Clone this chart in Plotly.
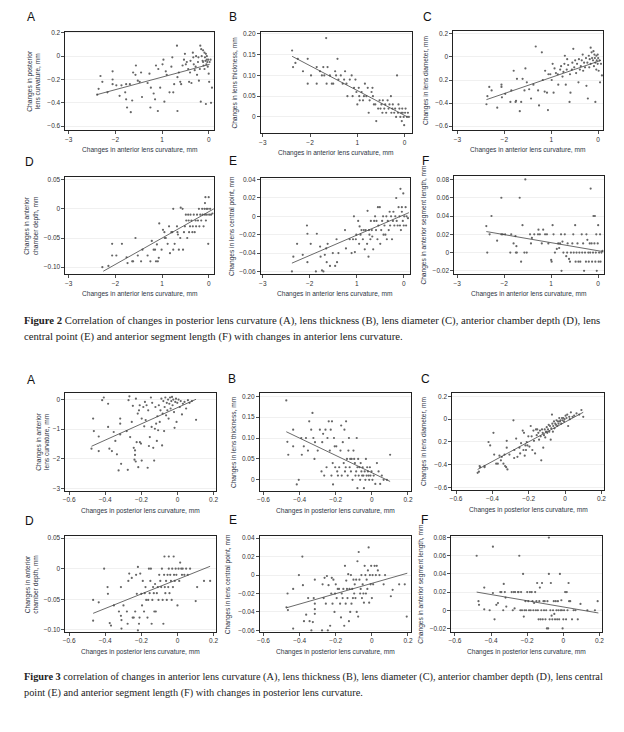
import plotly.graph_objects as go

W, H = 624, 732

# ---------------- DATA ----------------
# Figure 2: x = changes in anterior lens curvature (mm)
f2a_pts = [(-2.39,-0.33),(-2.36,-0.28),(-2.32,-0.17),(-2.28,-0.22),(-2.17,-0.31),(-2.06,-0.13),(-2.06,-0.20),(-2.06,-0.24),
    (-1.98,-0.25),(-1.91,-0.34),(-1.87,-0.25),(-1.79,-0.31),(-1.77,-0.24),(-1.77,-0.37),(-1.75,-0.44),(-1.69,-0.24),
    (-1.67,-0.48),(-1.64,-0.38),(-1.62,-0.14),(-1.57,-0.16),(-1.56,-0.08),(-1.52,-0.21),(-1.48,-0.22),(-1.45,-0.14),
    (-1.43,-0.35),(-1.31,-0.23),(-1.27,-0.15),(-1.25,-0.44),(-1.24,-0.27),(-1.18,-0.32),(-1.15,-0.37),(-1.13,-0.08),
    (-1.09,-0.47),(-1.08,-0.11),(-1.04,-0.27),(-0.99,-0.07),(-0.97,-0.03),(-0.95,-0.39),(-0.92,-0.13),(-0.90,-0.16),
    (-0.84,-0.31),(-0.80,-0.09),(-0.78,-0.01),(-0.76,-0.31),(-0.74,-0.24),(-0.68,0.09),(-0.67,-0.47),(-0.67,-0.18),
    (-0.64,-0.14),(-0.61,-0.22),(-0.59,-0.24),(-0.56,-0.08),(-0.53,-0.03),(-0.51,0.02),(-0.49,-0.07),(-0.47,-0.05),
    (-0.44,-0.11),(-0.42,-0.22),(-0.40,-0.14),(-0.39,-0.04),(-0.37,-0.23),(-0.34,0.03),(-0.33,-0.01),(-0.32,-0.07),
    (-0.30,-0.12),(-0.28,-0.09),(-0.27,0.00),(-0.25,-0.16),(-0.23,-0.05),(-0.22,-0.01),(-0.21,-0.21),(-0.19,-0.11),
    (-0.18,0.09),(-0.17,-0.39),(-0.16,0.06),(-0.15,0.00),(-0.13,-0.04),(-0.12,0.05),(-0.12,-0.05),(-0.11,-0.08),
    (-0.09,0.03),(-0.09,-0.11),(-0.08,-0.01),(-0.07,-0.04),(-0.06,0.02),(-0.06,-0.41),(-0.05,-0.07),(-0.04,-0.03),
    (-0.04,0.00),(-0.03,-0.05),(-0.02,-0.09),(-0.01,-0.03),(0.00,-0.15),(0.01,-0.22),(0.02,-0.05),(0.04,-0.03),
    (0.05,-0.40),(0.07,-0.27)]
f2a_fit = [(-2.40,-0.33),(0.02,-0.07)]

f2b_pts = [(-2.38,0.16),(-2.36,0.12),(-2.31,0.13),(-2.26,0.14),(-2.15,0.11),(-2.05,0.14),(-2.05,0.08),(-1.98,0.10),
    (-1.86,0.12),(-1.86,0.08),(-1.79,0.11),(-1.75,0.10),(-1.72,0.12),(-1.70,0.10),(-1.66,0.19),(-1.65,0.08),
    (-1.63,0.12),(-1.58,0.10),(-1.54,0.08),(-1.51,0.08),(-1.47,0.11),(-1.45,0.10),(-1.42,0.14),(-1.40,0.09),
    (-1.35,0.10),(-1.31,0.08),(-1.28,0.09),(-1.26,0.11),(-1.23,0.08),(-1.21,0.05),(-1.16,0.09),(-1.12,0.10),
    (-1.10,0.05),(-1.07,0.07),(-1.04,0.09),(-1.02,0.06),(-1.00,0.03),(-0.97,0.07),(-0.96,0.05),(-0.95,0.04),
    (-0.91,0.06),(-0.88,0.04),(-0.86,0.05),(-0.84,0.08),(-0.81,0.05),(-0.78,0.07),(-0.76,0.01),(-0.74,0.04),
    (-0.70,0.06),(-0.68,0.07),(-0.67,0.05),(-0.65,0.03),(-0.62,0.03),(-0.60,-0.01),(-0.56,0.02),(-0.53,0.04),
    (-0.51,0.02),(-0.49,0.03),(-0.47,0.01),(-0.46,0.04),(-0.43,0.02),(-0.41,0.03),(-0.39,0.01),(-0.36,0.04),
    (-0.34,0.02),(-0.32,0.03),(-0.29,0.05),(-0.28,0.01),(-0.26,0.02),(-0.25,0.03),(-0.22,0.01),(-0.20,0.02),
    (-0.18,0.00),(-0.16,0.10),(-0.14,0.01),(-0.13,0.03),(-0.11,0.02),(-0.09,0.00),(-0.07,0.01),(-0.06,-0.01),
    (-0.05,0.02),(-0.04,0.01),(-0.02,0.00),(-0.01,-0.02),(0.01,0.01),(0.02,0.02),(0.05,0.00),(0.07,0.01),(0.09,0.00)]
f2b_fit = [(-2.38,0.146),(0.06,0.0)]

f2c_pts = [(-2.38,-0.41),(-2.36,-0.34),(-2.32,-0.26),(-2.27,-0.29),(-2.15,-0.44),(-2.06,-0.26),(-2.06,-0.24),(-2.05,-0.35),
    (-1.98,-0.32),(-1.87,-0.39),(-1.85,-0.29),(-1.80,-0.12),(-1.76,-0.39),(-1.75,-0.38),(-1.73,-0.19),(-1.67,-0.47),
    (-1.64,-0.39),(-1.61,-0.19),(-1.57,-0.29),(-1.55,-0.10),(-1.52,-0.22),(-1.47,-0.28),(-1.43,-0.36),(-1.38,-0.24),
    (-1.33,0.09),(-1.28,-0.29),(-1.26,-0.42),(-1.20,0.04),(-1.18,-0.20),(-1.14,-0.30),(-1.13,-0.12),(-1.09,-0.31),
    (-1.07,-0.46),(-1.06,-0.15),(-1.02,-0.15),(-0.99,-0.20),(-0.97,-0.06),(-0.95,-0.31),(-0.93,-0.10),(-0.90,-0.14),
    (-0.86,-0.15),(-0.85,-0.24),(-0.81,-0.11),(-0.79,-0.08),(-0.76,-0.17),(-0.74,-0.13),(-0.72,-0.06),(-0.71,0.01),
    (-0.69,-0.24),(-0.67,-0.11),(-0.66,-0.02),(-0.64,-0.07),(-0.61,-0.39),(-0.60,-0.15),(-0.59,-0.31),(-0.56,-0.11),
    (-0.55,-0.05),(-0.53,0.07),(-0.51,-0.09),(-0.49,-0.03),(-0.47,-0.14),(-0.45,-0.06),(-0.42,-0.22),(-0.41,-0.02),
    (-0.39,-0.11),(-0.37,-0.08),(-0.35,-0.03),(-0.33,0.02),(-0.32,-0.12),(-0.30,-0.05),(-0.28,-0.09),(-0.26,-0.01),
    (-0.25,-0.25),(-0.23,-0.05),(-0.22,-0.36),(-0.20,0.01),(-0.19,-0.09),(-0.18,-0.02),(-0.16,0.08),(-0.16,-0.06),
    (-0.14,0.04),(-0.13,-0.01),(-0.11,-0.03),(-0.10,0.05),(-0.09,-0.08),(-0.08,0.02),(-0.07,-0.01),(-0.06,-0.39),
    (-0.06,-0.05),(-0.04,0.01),(-0.04,-0.11),(-0.03,-0.03),(-0.01,0.02),(-0.01,-0.06),(0.00,-0.01),(0.01,-0.12),
    (0.03,-0.03),(0.04,-0.22),(0.06,-0.06),(0.08,-0.16)]
f2c_fit = [(-2.38,-0.37),(0.06,-0.03)]

f2d_pts = [(-2.28,-0.10),(-2.15,-0.098),(-2.07,-0.06),(-2.07,-0.08),(-1.98,-0.08),(-1.86,-0.06),(-1.76,-0.083),(-1.74,-0.093),
    (-1.64,-0.09),(-1.62,-0.09),(-1.57,-0.05),(-1.52,-0.08),(-1.45,-0.09),(-1.42,-0.07),(-1.31,-0.08),(-1.25,-0.09),
    (-1.22,-0.055),(-1.18,-0.07),(-1.13,-0.09),(-1.15,-0.07),(-1.11,-0.061),(-1.09,-0.09),(-1.07,-0.084),(-1.06,-0.025),
    (-1.01,-0.07),(-0.98,-0.036),(-0.95,-0.04),(-0.94,-0.05),(-0.92,-0.05),(-0.88,-0.06),(-0.85,-0.03),(-0.83,-0.076),
    (-0.80,-0.04),(-0.78,-0.04),(-0.76,0.0),(-0.76,-0.07),(-0.73,-0.06),(-0.68,-0.03),(-0.67,-0.04),(-0.66,-0.044),
    (-0.64,-0.07),(-0.61,-0.05),(-0.60,0.002),(-0.56,0.0),(-0.55,-0.07),(-0.53,-0.04),(-0.51,-0.03),(-0.49,-0.01),
    (-0.48,-0.02),(-0.46,-0.05),(-0.44,-0.01),(-0.43,-0.02),(-0.42,-0.04),(-0.40,-0.03),(-0.39,-0.01),(-0.37,-0.02),
    (-0.35,-0.04),(-0.34,-0.03),(-0.32,-0.01),(-0.30,-0.04),(-0.28,-0.02),(-0.27,-0.03),(-0.25,-0.01),(-0.23,-0.02),
    (-0.21,0.0),(-0.20,-0.03),(-0.18,-0.01),(-0.16,-0.02),(-0.14,0.0),(-0.13,-0.01),(-0.11,-0.03),(-0.09,0.0),
    (-0.08,0.01),(-0.08,-0.01),(-0.07,0.02),(-0.06,-0.02),(-0.05,0.0),(-0.04,-0.01),(-0.02,0.0),(-0.01,-0.06),
    (0.0,0.02),(0.01,-0.01),(0.03,0.0),(0.05,-0.01),(0.08,-0.008)]
f2d_fit = [(-2.26,-0.107),(0.11,0.0)]

f2e_pts = [(-2.38,-0.06),(-2.35,-0.044),(-2.27,-0.03),(-2.15,-0.042),(-2.06,-0.01),(-2.05,-0.019),(-2.05,-0.05),(-1.98,-0.03),
    (-1.87,-0.06),(-1.85,-0.019),(-1.78,-0.033),(-1.77,-0.044),(-1.74,-0.059),(-1.71,-0.06),(-1.68,-0.042),(-1.65,-0.035),
    (-1.64,-0.05),(-1.62,-0.03),(-1.57,-0.054),(-1.51,-0.04),(-1.46,-0.054),(-1.43,-0.025),(-1.42,-0.05),(-1.39,-0.04),
    (-1.25,-0.015),(-1.23,-0.035),(-1.15,-0.025),(-1.11,-0.04),(-1.08,-0.025),(-1.06,0.0),(-1.04,-0.039),(-1.02,-0.025),
    (-1.01,-0.02),(-0.97,-0.005),(-0.95,-0.03),(-0.94,-0.011),(-0.92,-0.02),(-0.90,-0.015),(-0.87,-0.025),(-0.85,-0.015),
    (-0.83,-0.036),(-0.81,-0.015),(-0.78,-0.03),(-0.77,0.006),(-0.75,-0.044),(-0.74,-0.015),(-0.73,-0.02),(-0.71,-0.025),
    (-0.70,-0.005),(-0.68,-0.015),(-0.67,-0.022),(-0.65,-0.036),(-0.63,-0.005),(-0.61,0.0),(-0.59,-0.015),(-0.58,-0.005),
    (-0.56,-0.025),(-0.55,0.01),(-0.54,-0.01),(-0.51,0.01),(-0.50,-0.03),(-0.48,-0.015),(-0.46,-0.005),(-0.44,0.0),
    (-0.43,-0.02),(-0.41,-0.01),(-0.39,-0.02),(-0.37,0.0),(-0.36,-0.025),(-0.34,-0.005),(-0.32,-0.015),(-0.30,0.005),
    (-0.29,-0.01),(-0.27,0.0),(-0.25,-0.025),(-0.23,-0.005),(-0.22,0.005),(-0.20,-0.01),(-0.18,0.0),(-0.16,0.02),
    (-0.15,-0.005),(-0.13,-0.01),(-0.11,0.01),(-0.09,0.0),(-0.08,-0.01),(-0.07,0.03),(-0.06,-0.015),(-0.04,0.005),
    (-0.04,0.01),(-0.02,-0.005),(-0.01,0.025),(0.0,-0.01),(0.01,0.0),(0.04,0.01),(0.05,-0.01),(0.06,0.0),(0.09,-0.002)]
f2e_fit = [(-2.38,-0.051),(0.11,0.004)]

f2f_pts = [(-2.38,0.029),(-2.36,0.0),(-2.31,0.02),(-2.27,0.04),(-2.15,0.013),(-2.06,0.06),(-2.06,0.02),(-2.03,0.02),
    (-1.98,0.02),(-1.87,0.0),(-1.85,0.02),(-1.80,0.01),(-1.76,0.018),(-1.75,0.0),(-1.74,0.007),(-1.73,0.0),
    (-1.67,0.06),(-1.64,-0.01),(-1.61,0.03),(-1.57,0.0),(-1.55,0.08),(-1.52,0.0),(-1.45,0.02),(-1.43,0.01),
    (-1.41,0.016),(-1.36,0.02),(-1.28,0.02),(-1.27,0.025),(-1.24,0.02),(-1.20,0.01),(-1.17,0.025),(-1.13,0.02),
    (-1.09,0.02),(-1.06,0.01),(-1.00,-0.008),(-0.99,-0.01),(-0.97,0.03),(-0.95,0.02),(-0.92,0.0),(-0.88,0.004),
    (-0.85,0.01),(-0.83,0.005),(-0.81,0.01),(-0.79,0.02),(-0.78,-0.02),(-0.76,0.012),(-0.74,0.0),(-0.71,0.02),
    (-0.68,-0.004),(-0.66,0.0),(-0.65,0.01),(-0.62,-0.007),(-0.60,-0.01),(-0.58,0.0),(-0.55,0.01),(-0.53,0.02),
    (-0.52,0.0),(-0.49,0.03),(-0.48,-0.01),(-0.46,0.0),(-0.44,0.01),(-0.42,-0.01),(-0.40,0.0),(-0.38,-0.01),
    (-0.35,0.02),(-0.34,0.0),(-0.32,0.01),(-0.30,-0.02),(-0.28,0.0),(-0.26,-0.01),(-0.25,0.02),(-0.23,0.014),
    (-0.21,0.0),(-0.20,-0.01),(-0.18,0.01),(-0.17,0.0),(-0.16,0.07),(-0.14,0.01),(-0.13,-0.01),(-0.11,0.0),
    (-0.10,0.04),(-0.08,0.01),(-0.07,0.04),(-0.06,-0.01),(-0.05,0.0),(-0.04,0.02),(-0.03,-0.02),(-0.01,0.01),
    (0.0,0.03),(0.01,-0.01),(0.02,0.0),(0.04,0.02),(0.05,-0.01),(0.07,0.0),(0.09,0.002)]
f2f_fit = [(-2.38,0.023),(0.11,0.001)]

# Figure 3: x = changes in posterior lens curvature (mm)
f3a_pts = [(-0.476,-1.66),(-0.467,-0.65),(-0.463,-1.07),(-0.436,-1.25),(-0.436,-1.74),(-0.417,-0.03),(-0.408,0.06),(-0.384,-0.15),
    (-0.384,-0.93),(-0.377,-1.66),(-0.363,-1.74),(-0.353,-1.10),(-0.344,-1.40),(-0.335,-1.85),(-0.326,-2.39),(-0.317,-0.65),
    (-0.317,-0.82),(-0.317,-1.18),(-0.312,-2.17),(-0.281,-1.07),(-0.275,-2.37),(-0.271,-0.03),(-0.266,0.10),(-0.262,-1.27),
    (-0.253,-0.76),(-0.247,-0.22),(-0.242,-1.63),(-0.238,-2.03),(-0.235,-1.72),(-0.235,-1.87),(-0.231,-2.09),(-0.230,0.02),
    (-0.226,-1.44),(-0.220,-0.48),(-0.217,-2.28),(-0.213,-0.37),(-0.209,-0.20),(-0.208,-1.44),(-0.202,-1.49),(-0.198,-2.06),
    (-0.198,-0.65),(-0.189,-0.26),(-0.184,-0.91),(-0.180,-0.09),(-0.176,-0.70),(-0.171,-0.20),(-0.165,-2.30),(-0.162,-0.37),
    (-0.158,-1.57),(-0.153,-1.27),(-0.147,0.06),(-0.143,-0.93),(-0.140,-0.12),(-0.134,-1.63),(-0.129,-2.06),(-0.125,-0.99),
    (-0.122,-0.26),(-0.118,-0.82),(-0.114,-1.40),(-0.111,-0.57),(-0.107,-1.04),(-0.103,-0.20),(-0.098,-0.76),(-0.094,-0.37),
    (-0.089,0.02),(-0.085,-1.55),(-0.082,-0.48),(-0.078,-0.06),(-0.074,-1.07),(-0.071,-0.26),(-0.067,0.06),(-0.063,-0.54),
    (-0.059,-0.12),(-0.056,-0.37),(-0.052,-0.01),(-0.049,-0.65),(-0.045,-0.15),(-0.041,0.06),(-0.038,-0.31),(-0.034,-0.06),
    (-0.030,0.08),(-0.027,-0.20),(-0.023,-0.01),(-0.019,-0.43),(-0.016,-0.96),(-0.012,-0.09),(-0.008,0.02),(-0.005,-0.76),
    (-0.001,-0.12),(0.006,-0.01),(0.013,-0.26),(0.018,-0.06),(0.025,-0.51),(0.030,-0.15),(0.039,-0.09),(0.048,-0.31),
    (0.058,-0.03),(0.067,-0.12),(0.080,-0.06),(0.103,-0.69)]
f3a_fit = [(-0.476,-1.58),(0.103,0.0)]

f3b_pts = [(-0.474,0.19),(-0.468,0.091),(-0.463,0.06),(-0.436,0.12),(-0.436,0.08),(-0.416,-0.011),(-0.405,0.0),(-0.391,0.10),
    (-0.388,0.06),(-0.377,0.08),(-0.365,0.10),(-0.354,0.07),(-0.347,0.14),(-0.336,0.12),(-0.329,0.16),(-0.324,0.10),
    (-0.318,0.05),(-0.315,0.09),(-0.300,0.07),(-0.288,0.12),(-0.279,0.02),(-0.275,0.09),(-0.270,0.11),(-0.264,0.01),
    (-0.257,0.12),(-0.251,0.03),(-0.246,0.10),(-0.239,0.14),(-0.233,0.07),(-0.228,0.12),(-0.224,0.01),(-0.221,0.14),
    (-0.217,0.04),(-0.215,-0.011),(-0.210,0.10),(-0.206,0.08),(-0.203,0.03),(-0.197,0.08),(-0.192,0.02),(-0.188,0.01),
    (-0.181,0.03),(-0.174,0.07),(-0.170,0.13),(-0.167,0.01),(-0.161,0.09),(-0.156,0.04),(-0.152,0.12),(-0.149,0.02),
    (-0.145,0.03),(-0.143,0.14),(-0.138,0.05),(-0.134,0.01),(-0.130,0.07),(-0.127,0.10),(-0.123,0.03),(-0.120,0.05),
    (-0.116,0.02),(-0.112,0.05),(-0.107,0.0),(-0.102,0.07),(-0.098,0.05),(-0.094,0.04),(-0.091,0.01),(-0.087,0.02),
    (-0.084,0.10),(-0.080,-0.02),(-0.080,0.03),(-0.076,0.05),(-0.073,0.01),(-0.069,0.03),(-0.065,0.0),(-0.062,0.04),
    (-0.058,0.02),(-0.054,0.01),(-0.051,0.03),(-0.047,0.01),(-0.044,-0.02),(-0.040,0.02),(-0.036,0.0),(-0.033,0.05),
    (-0.029,0.01),(-0.026,0.03),(-0.022,0.02),(-0.018,0.01),(-0.015,0.0),(-0.011,0.03),(-0.008,0.01),(-0.002,0.02),
    (0.003,0.0),(0.010,0.01),(0.019,-0.01),(0.028,0.04),(0.037,0.02),(0.046,-0.01),(0.055,0.01),(0.065,0.0),
    (0.083,0.0),(0.101,0.06)]
f3b_fit = [(-0.474,0.115),(0.101,-0.004)]

f3c_pts = [(-0.481,-0.47),(-0.474,-0.46),(-0.470,-0.41),(-0.467,-0.42),(-0.443,-0.41),(-0.443,-0.42),(-0.421,-0.20),(-0.412,-0.23),
    (-0.394,-0.12),(-0.390,-0.31),(-0.379,-0.39),(-0.370,-0.39),(-0.361,-0.32),(-0.353,-0.36),(-0.348,-0.33),(-0.339,-0.39),
    (-0.333,-0.31),(-0.330,-0.41),(-0.324,-0.42),(-0.321,-0.19),(-0.321,-0.25),(-0.317,-0.44),(-0.306,-0.31),(-0.284,-0.01),
    (-0.280,-0.34),(-0.279,-0.27),(-0.269,-0.17),(-0.262,-0.33),(-0.251,-0.25),(-0.247,-0.30),(-0.242,-0.21),(-0.233,-0.10),
    (-0.229,-0.27),(-0.226,-0.12),(-0.222,-0.32),(-0.218,-0.23),(-0.215,-0.27),(-0.211,-0.20),(-0.207,-0.23),(-0.202,-0.15),
    (-0.196,-0.24),(-0.189,-0.06),(-0.184,-0.15),(-0.180,-0.27),(-0.174,-0.10),(-0.171,-0.19),(-0.165,-0.30),(-0.160,-0.09),
    (-0.156,-0.14),(-0.153,-0.09),(-0.147,-0.12),(-0.143,-0.18),(-0.138,-0.10),(-0.134,-0.15),(-0.131,-0.36),(-0.127,-0.09),
    (-0.123,-0.12),(-0.120,-0.25),(-0.116,-0.14),(-0.112,-0.09),(-0.109,-0.16),(-0.105,-0.11),(-0.101,-0.07),(-0.098,-0.12),
    (-0.094,-0.09),(-0.090,-0.05),(-0.087,-0.11),(-0.083,-0.06),(-0.079,-0.18),(-0.076,-0.08),(-0.072,0.04),(-0.070,-0.04),
    (-0.067,-0.11),(-0.065,-0.06),(-0.061,-0.02),(-0.058,-0.08),(-0.054,-0.04),(-0.050,-0.05),(-0.047,-0.01),(-0.043,-0.06),
    (-0.039,-0.02),(-0.036,-0.04),(-0.032,0.01),(-0.028,-0.02),(-0.025,-0.01),(-0.021,-0.04),(-0.017,0.01),(-0.014,-0.01),
    (-0.010,0.01),(-0.006,-0.02),(-0.003,0.0),(0.003,0.03),(0.008,0.01),(0.012,0.04),(0.017,-0.06),(0.023,0.02),
    (0.026,0.0),(0.032,0.06),(0.041,0.02),(0.050,0.03),(0.063,0.05),(0.078,0.04),(0.090,0.08),(0.100,0.02)]
f3c_fit = [(-0.481,-0.44),(0.100,0.06)]

f3d_pts = [(-0.467,-0.051),(-0.467,-0.085),(-0.436,-0.055),(-0.406,0.0),(-0.387,-0.03),(-0.385,-0.041),(-0.375,-0.089),(-0.368,-0.093),
    (-0.352,-0.06),(-0.324,-0.07),(-0.313,-0.03),(-0.313,-0.077),(-0.310,-0.084),(-0.310,-0.098),(-0.299,-0.06),(-0.280,-0.07),
    (-0.276,-0.09),(-0.272,-0.02),(-0.267,-0.008),(-0.253,-0.015),(-0.248,-0.08),(-0.242,-0.08),(-0.234,-0.07),(-0.229,-0.01),
    (-0.225,-0.041),(-0.219,0.003),(-0.219,-0.101),(-0.213,-0.09),(-0.210,-0.08),(-0.206,-0.008),(-0.200,-0.041),(-0.196,-0.06),
    (-0.192,-0.02),(-0.185,-0.07),(-0.181,-0.04),(-0.177,-0.03),(-0.173,-0.051),(-0.166,-0.08),(-0.162,-0.051),(-0.158,0.0),
    (-0.154,-0.04),(-0.150,-0.02),(-0.147,0.0),(-0.143,-0.09),(-0.139,-0.051),(-0.135,-0.03),(-0.131,-0.04),(-0.128,-0.07),
    (-0.124,-0.025),(-0.120,-0.07),(-0.114,-0.04),(-0.109,-0.03),(-0.105,-0.051),(-0.101,-0.01),(-0.095,-0.02),(-0.090,-0.03),
    (-0.086,0.0),(-0.082,-0.051),(-0.078,-0.09),(-0.074,-0.01),(-0.072,0.02),(-0.070,-0.03),(-0.067,-0.04),(-0.063,-0.02),
    (-0.059,-0.051),(-0.055,-0.01),(-0.051,-0.03),(-0.048,0.02),(-0.048,0.0),(-0.044,-0.04),(-0.040,-0.01),(-0.036,-0.02),
    (-0.032,-0.051),(-0.029,0.0),(-0.025,-0.03),(-0.021,0.02),(-0.019,-0.01),(-0.015,-0.02),(-0.010,0.0),(-0.006,-0.01),
    (0.0,-0.06),(0.006,0.0),(0.010,-0.02),(0.015,0.01),(0.021,0.0),(0.025,-0.01),(0.029,0.0),(0.038,-0.01),
    (0.048,0.0),(0.057,-0.01),(0.070,0.0),(0.101,-0.053),(0.109,-0.03),(0.147,-0.02),(0.181,-0.02)]
f3d_fit = [(-0.467,-0.073),(0.181,0.004)]

f3e_pts = [(-0.473,-0.035),(-0.467,-0.02),(-0.465,-0.038),(-0.436,-0.058),(-0.436,-0.015),(-0.404,0.0),(-0.385,0.02),(-0.382,-0.011),
    (-0.376,-0.05),(-0.364,-0.043),(-0.353,-0.025),(-0.345,-0.05),(-0.335,-0.06),(-0.327,-0.051),(-0.322,-0.025),(-0.316,-0.005),
    (-0.316,-0.031),(-0.316,-0.037),(-0.316,-0.042),(-0.276,-0.06),(-0.273,-0.01),(-0.267,-0.025),(-0.262,-0.003),(-0.255,-0.031),
    (-0.249,-0.001),(-0.244,-0.06),(-0.240,-0.011),(-0.231,-0.055),(-0.225,-0.02),(-0.222,-0.003),(-0.218,-0.031),(-0.213,-0.005),
    (-0.207,-0.04),(-0.204,-0.02),(-0.200,-0.01),(-0.195,-0.025),(-0.189,-0.015),(-0.182,-0.015),(-0.176,-0.031),(-0.171,-0.046),
    (-0.167,-0.02),(-0.162,-0.025),(-0.158,-0.015),(-0.153,-0.055),(-0.149,0.01),(-0.145,-0.031),(-0.142,-0.006),(-0.138,-0.015),
    (-0.135,-0.025),(-0.131,0.001),(-0.127,-0.05),(-0.124,-0.015),(-0.120,-0.04),(-0.116,0.0),(-0.113,-0.031),(-0.109,-0.015),
    (-0.105,-0.025),(-0.102,-0.005),(-0.098,-0.02),(-0.095,-0.01),(-0.091,-0.025),(-0.087,-0.005),(-0.084,-0.04),(-0.080,0.015),
    (-0.076,-0.045),(-0.073,0.025),(-0.069,-0.005),(-0.065,-0.02),(-0.062,-0.015),(-0.058,0.0),(-0.055,-0.025),(-0.051,-0.01),
    (-0.047,-0.02),(-0.044,-0.03),(-0.040,0.01),(-0.036,0.0),(-0.033,-0.02),(-0.029,-0.005),(-0.025,-0.015),(-0.022,0.005),
    (-0.018,0.03),(-0.015,-0.03),(-0.011,0.0),(-0.007,-0.01),(-0.004,0.01),(0.0,-0.025),(0.004,0.0),(0.007,-0.01),
    (0.015,0.01),(0.022,0.0),(0.027,0.01),(0.033,0.005),(0.042,0.0),(0.065,-0.01),(0.073,0.0),(0.105,-0.023),
    (0.115,-0.016),(0.151,-0.01),(0.182,-0.01),(0.193,-0.045)]
f3e_fit = [(-0.473,-0.0355),(0.196,0.002)]

f3f_pts = [(-0.480,0.06),(-0.470,0.01),(-0.467,0.006),(-0.438,0.025),(-0.438,0.001),(-0.408,0.0),(-0.390,0.07),(-0.390,0.019),
    (-0.381,-0.01),(-0.371,0.006),(-0.362,0.008),(-0.349,0.02),(-0.343,0.02),(-0.333,0.0),(-0.330,0.029),(-0.324,0.02),
    (-0.320,0.014),(-0.316,0.004),(-0.286,0.02),(-0.280,0.0),(-0.274,0.02),(-0.270,0.002),(-0.267,0.02),(-0.251,0.02),
    (-0.248,0.02),(-0.244,0.06),(-0.238,0.0),(-0.234,0.02),(-0.229,0.0),(-0.223,0.04),(-0.219,-0.007),(-0.215,0.0),
    (-0.210,0.01),(-0.206,0.0),(-0.200,0.02),(-0.194,0.01),(-0.190,0.0),(-0.185,0.02),(-0.181,0.0),(-0.175,0.02),
    (-0.171,0.01),(-0.166,0.0),(-0.162,0.008),(-0.156,0.02),(-0.152,0.0),(-0.149,0.01),(-0.145,0.03),(-0.141,0.0),
    (-0.137,-0.01),(-0.133,0.01),(-0.130,0.025),(-0.126,-0.01),(-0.122,0.0),(-0.118,0.03),(-0.114,-0.01),(-0.110,0.01),
    (-0.107,0.0),(-0.103,0.01),(-0.099,-0.01),(-0.095,0.0),(-0.091,-0.02),(-0.088,0.01),(-0.084,-0.02),(-0.080,0.08),
    (-0.080,0.04),(-0.076,-0.01),(-0.072,0.0),(-0.069,0.03),(-0.065,-0.006),(-0.061,-0.01),(-0.057,0.0),(-0.053,0.01),
    (-0.050,-0.004),(-0.046,-0.01),(-0.042,0.01),(-0.038,0.0),(-0.034,-0.01),(-0.030,0.01),(-0.027,0.0),(-0.023,-0.01),
    (-0.019,0.04),(-0.015,0.0),(-0.011,0.011),(-0.008,0.0),(-0.004,-0.02),(0.0,-0.01),(0.004,0.0),(0.010,0.02),
    (0.015,-0.01),(0.019,0.02),(0.023,0.0),(0.029,0.03),(0.032,0.01),(0.038,0.01),(0.048,-0.01),(0.057,0.0),
    (0.067,0.0),(0.080,-0.01),(0.095,0.007),(0.133,0.0),(0.175,0.0),(0.190,0.01)]
f3f_fit = [(-0.480,0.020),(0.194,-0.003)]

# tick labels (as printed in the figure)
x2_vals = [-3, -2, -1, 0]
x2_text = ["\u22123", "\u22122", "1", "0"]
x3_vals = [-0.6, -0.4, -0.2, 0, 0.2]
x3_text = ["\u22120.6", "\u22120.4", "\u22120.2", "0", "0.2"]
y_curv_vals = [0.2, 0, -0.2, -0.4, -0.6]
y_curv_text = ["0.2", "0", "\u22120.2", "\u22120.4", "\u22120.6"]
y_diam_text = ["0.2", "0", "0.2", "\u22120.4", "\u22120.6"]
y_thick_vals = [0.20, 0.15, 0.10, 0.05, 0]
y_thick_text = ["0.20", "0.15", "0.10", "0.05", "0"]
y_acd_vals = [0.05, 0, -0.05, -0.10]
y_acd_text = ["0.05", "0", "\u22120.05", "\u22120.10"]
y_lcp_vals = [0.04, 0.02, 0, -0.02, -0.04, -0.06]
y_lcp_text = ["0.04", "0.02", "0", "\u22120.02", "\u22120.04", "\u22120.06"]
y_asl_vals = [0.08, 0.06, 0.04, 0.02, 0, -0.02]
y_asl_text = ["0.08", "0.06", "0.04", "0.02", "0", "\u22120.02"]
y_alc_vals = [0, -1, -2, -3]
y_alc_text = ["0", "\u22121", "\u22122", "\u22123"]

x2_title = "Changes in anterior lens curvature, mm"
x3_title = "Changes in posterior lens curvature, mm"
caption2 = ["<b>Figure 2</b> Correlation of changes in posterior lens curvature (A), lens thickness (B), lens diameter (C), anterior chamber depth (D), lens",
            "central point (E) and anterior segment length (F) with changes in anterior lens curvature."]
caption3 = ["<b>Figure 3</b> correlation of changes in anterior lens curvature (A), lens thickness (B), lens diameter (C), anterior chamber depth (D), lens central",
            "point (E) and anterior segment length (F) with changes in posterior lens curvature."]

# ---------------- LAYOUT SPEC (pixel boxes) ----------------
X2R = [-3.07, 0.12]
X3R = [-0.62, 0.215]
panels = [
    dict(L="A", pts=f2a_pts, fit=f2a_fit, box=(63, 213, 29, 128), xr=X2R, yr=[-0.634, 0.209], xv=x2_vals, xt=x2_text,
         yv=y_curv_vals, yt=y_curv_text, xtitle=x2_title, ytitle="Changes in posterior<br>lens curvature, mm", yt_x=31, lab=(28, 14)),
    dict(L="B", pts=f2b_pts, fit=f2b_fit, box=(260, 412, 29, 131), xr=[-3.04, 0.15], yr=[-0.039, 0.205], xv=x2_vals, xt=x2_text,
         yv=y_thick_vals, yt=y_thick_text, xtitle=x2_title, ytitle="Changes in lens thickness, mm", yt_x=234, lab=(232, 14)),
    dict(L="C", pts=f2c_pts, fit=f2c_fit, box=(454, 605, 28, 128), xr=[-3.085, 0.106], yr=[-0.634, 0.226], xv=x2_vals, xt=x2_text,
         yv=y_curv_vals, yt=y_diam_text, xtitle=x2_title, ytitle="Changes in lens diameter, mm", yt_x=427, lab=(428, 14)),
    dict(L="D", pts=f2d_pts, fit=f2d_fit, box=(63, 213, 175, 273), xr=X2R, yr=[-0.112, 0.055], xv=x2_vals, xt=x2_text,
         yv=y_acd_vals, yt=y_acd_text, xtitle=x2_title, ytitle="Changes in anterior<br>chamber depth, mm", yt_x=29, lab=(27, 160)),
    dict(L="E", pts=f2e_pts, fit=f2e_fit, box=(260, 410, 176, 273), xr=[-3.04, 0.127], yr=[-0.063, 0.042], xv=x2_vals, xt=x2_text,
         yv=y_lcp_vals, yt=y_lcp_text, xtitle=x2_title, ytitle="Changes in lens central point, mm", yt_x=231, lab=(232, 159)),
    dict(L="F", pts=f2f_pts, fit=f2f_fit, box=(455, 606, 174, 273), xr=[-3.06, 0.127], yr=[-0.0236, 0.084], xv=x2_vals, xt=x2_text,
         yv=y_asl_vals, yt=y_asl_text, xtitle=x2_title, ytitle="Changes in anterior segment length, mm", yt_x=424, lab=(426, 159)),
    dict(L="A", pts=f3a_pts, fit=f3a_fit, box=(63, 215, 393, 491), xr=X3R, yr=[-3.07, 0.2], xv=x3_vals, xt=x3_text,
         yv=y_alc_vals, yt=y_alc_text, xtitle=x3_title, ytitle="Changes in anterior<br>lens curvature, mm", yt_x=40, lab=(28, 380)),
    dict(L="B", pts=f3b_pts, fit=f3b_fit, box=(259, 411, 393, 491), xr=X3R, yr=[-0.026, 0.207], xv=x3_vals, xt=x3_text,
         yv=y_thick_vals, yt=y_thick_text, xtitle=x3_title, ytitle="Changes in lens thickness, mm", yt_x=233, lab=(231, 379)),
    dict(L="C", pts=f3c_pts, fit=f3c_fit, box=(453, 606, 393, 490), xr=X3R, yr=[-0.617, 0.226], xv=x3_vals, xt=x3_text,
         yv=y_curv_vals, yt=y_diam_text, xtitle=x3_title, ytitle="Changes in lens diameter, mm", yt_x=425, lab=(426, 379)),
    dict(L="D", pts=f3d_pts, fit=f3d_fit, box=(63, 215, 537, 633), xr=X3R, yr=[-0.103, 0.053], xv=x3_vals, xt=x3_text,
         yv=y_acd_vals, yt=y_acd_text, xtitle=x3_title, ytitle="Changes in anterior<br>chamber depth, mm", yt_x=29, lab=(27, 522)),
    dict(L="E", pts=f3e_pts, fit=f3e_fit, box=(259, 411, 537, 633), xr=X3R, yr=[-0.0614, 0.042], xv=x3_vals, xt=x3_text,
         yv=y_lcp_vals, yt=y_lcp_text, xtitle=x3_title, ytitle="Changes in lens central point, mm", yt_x=227, lab=(232, 521)),
    dict(L="F", pts=f3f_pts, fit=f3f_fit, box=(452, 604, 537, 633), xr=X3R, yr=[-0.0236, 0.0814], xv=x3_vals, xt=x3_text,
         yv=y_asl_vals, yt=y_asl_text, xtitle=x3_title, ytitle="Changes in anterior segment length, mm", yt_x=421, lab=(425, 521)),
]

def px(x):
    return x / W

def py(y):
    return 1 - y / H

SANS = "Liberation Sans, Arial, sans-serif"
TICKFONT = dict(family=SANS, size=6.5, color="#333")
TITLEFONT = dict(family=SANS, size=6.6, color="#2e3545")
PT_COLOR = "#666666"

fig = go.Figure()
annotations = []
layout = {}

for i, p in enumerate(panels, start=1):
    sfx = "" if i == 1 else str(i)
    xa, ya = "x" + sfx, "y" + sfx
    xs = [a for a, b in p["pts"]]
    ys = [b for a, b in p["pts"]]
    fig.add_trace(go.Scatter(x=xs, y=ys, mode="markers", xaxis=xa, yaxis=ya,
                             marker=dict(size=2.2, color=PT_COLOR), showlegend=False, hoverinfo="skip"))
    fig.add_trace(go.Scatter(x=[a for a, b in p["fit"]], y=[b for a, b in p["fit"]], mode="lines",
                             xaxis=xa, yaxis=ya, line=dict(color="#444", width=0.8),
                             showlegend=False, hoverinfo="skip"))
    x0, x1, y0, y1 = p["box"]
    layout["xaxis" + sfx] = dict(domain=[px(x0), px(x1)], range=p["xr"], anchor=ya,
                                 tickvals=p["xv"], ticktext=p["xt"], tickfont=TICKFONT,
                                 ticks="outside", ticklen=3, tickwidth=0.8, tickcolor="#222",
                                 showline=True, linecolor="#222", linewidth=1, mirror=True,
                                 showgrid=False, zeroline=False, fixedrange=True)
    layout["yaxis" + sfx] = dict(domain=[py(y1), py(y0)], range=p["yr"], anchor=xa,
                                 tickvals=p["yv"], ticktext=p["yt"], tickfont=TICKFONT,
                                 ticks="outside", ticklen=3, tickwidth=0.8, tickcolor="#222",
                                 showline=True, linecolor="#222", linewidth=1, mirror=True,
                                 showgrid=True, gridcolor="#ececec", gridwidth=0.8,
                                 zeroline=False, fixedrange=True)
    # x title
    annotations.append(dict(text=p["xtitle"], x=px((x0 + x1) / 2), y=py(y1 + 20), xref="paper", yref="paper",
                            xanchor="center", yanchor="middle", showarrow=False, font=TITLEFONT))
    # y title
    annotations.append(dict(text=p["ytitle"], x=px(p["yt_x"]), y=py((y0 + y1) / 2), xref="paper", yref="paper",
                            xanchor="center", yanchor="middle", textangle=-90, showarrow=False, font=TITLEFONT))
    # panel letter
    annotations.append(dict(text=p["L"], x=px(p["lab"][0]), y=py(p["lab"][1]), xref="paper", yref="paper",
                            xanchor="center", yanchor="middle", showarrow=False,
                            font=dict(family=SANS, size=12, color="#111")))

SERIF = "Liberation Serif, Times New Roman, serif"
for lines, ys, fs in ((caption2, (320, 336), 10.7), (caption3, (679, 695), 10.3)):
    for t, yy in zip(lines, ys):
        annotations.append(dict(text=t, x=px(19), y=py(yy), xref="paper", yref="paper",
                                xanchor="left", yanchor="middle", showarrow=False,
                                font=dict(family=SERIF, size=fs, color="#222")))

fig.update_layout(width=W, height=H, margin=dict(l=0, r=0, t=0, b=0),
                  paper_bgcolor="white", plot_bgcolor="white",
                  annotations=annotations, **layout)

fig.write_html("out.html", config={"displayModeBar": False, "staticPlot": True},
               post_script="document.body.style.margin='0';document.body.style.overflow='hidden';")
